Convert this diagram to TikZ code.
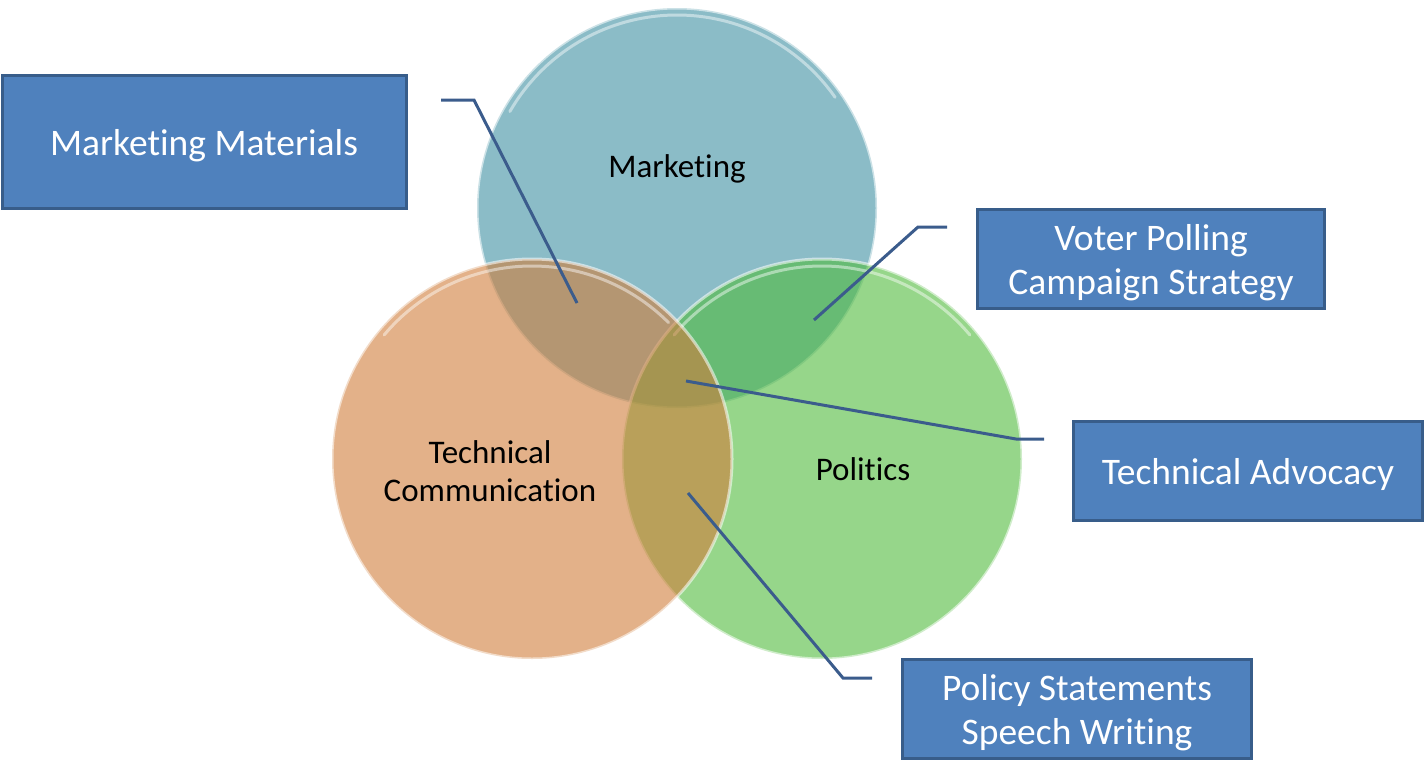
\documentclass[tikz,border=0pt]{standalone}
\usepackage{fontspec}
\setmainfont{Carlito}[Ligatures=NoCommon]
\definecolor{boxfill}{RGB}{79,129,189}
\definecolor{boxline}{RGB}{56,93,138}
\definecolor{lead}{RGB}{59,92,140}
\definecolor{cblue}{RGB}{62,143,162}
\definecolor{cgreen}{RGB}{80,187,60}
\definecolor{corange}{RGB}{208,125,58}
\newcommand\tup{\rule{0pt}{33pt}}
\begin{document}
\begin{tikzpicture}[x=1pt,y=-1pt,
  venn/.style={circle, minimum size=400pt, inner sep=0pt, fill opacity=0.6, draw=white, draw opacity=0.55, line width=3pt},
  gloss/.style={draw=white, draw opacity=0.45, line width=3pt, line cap=round},
  labelbox/.style={rectangle, fill=boxfill, draw=boxline, line width=3pt, text=white,
    font=\fontsize{37.5}{44}\selectfont, align=center, inner sep=0pt, minimum height=99pt},
  leader/.style={draw=lead, line width=3pt},
  clabel/.style={font=\fontsize{33}{38}\selectfont, align=center, text=black}]
\useasboundingbox (0,0) rectangle (1426,777);
% circles
\node[venn, fill=cblue] (mk) at (677,208) {};
\draw[gloss] (mk.center) ++(-35:193) arc[start angle=-35, end angle=-150, radius=193];
\node[venn, fill=cgreen] (po) at (822,459) {};
\draw[gloss] (po.center) ++(-40:193) arc[start angle=-40, end angle=-140, radius=193];
\node[venn, fill=corange] (tc) at (532,459) {};
\draw[gloss] (tc.center) ++(-45:193) arc[start angle=-45, end angle=-140, radius=193];
% circle labels
\node[clabel, anchor=base] (mkl) at (677,177) {Marketing};
\node[clabel] (tcl) at (490,471) {Technical\\Communication};
\node[clabel, anchor=base] (pol) at (863,480) {Politics};
% boxes
\node[labelbox, minimum width=404pt, minimum height=133pt] (mm) at (204,142) {\tup Marketing Materials};
\node[labelbox, minimum width=347pt] (vp) at (1151,259) {\tup Voter Polling\\Campaign Strategy};
\node[labelbox, minimum width=349pt] (ta) at (1248,471) {\tup Technical Advocacy};
\node[labelbox, minimum width=349pt] (ps) at (1077,709) {\tup Policy Statements\\Speech Writing};
% leader points
\coordinate (mm1) at (441,100);
\coordinate (mm2) at (474,100);
\coordinate (mm3) at (577,303);
\coordinate (vp1) at (947,227);
\coordinate (vp2) at (918,227);
\coordinate (vp3) at (814,320);
\coordinate (ta1) at (1044,439);
\coordinate (ta2) at (1016,439);
\coordinate (ta3) at (686,381);
\coordinate (ps1) at (872,678);
\coordinate (ps2) at (843,678);
\coordinate (ps3) at (688,493);
\draw[leader] (mm1) -- (mm2) -- (mm3);
\draw[leader] (vp1) -- (vp2) -- (vp3);
\draw[leader] (ta1) -- (ta2) -- (ta3);
\draw[leader] (ps1) -- (ps2) -- (ps3);
\end{tikzpicture}
\end{document}
